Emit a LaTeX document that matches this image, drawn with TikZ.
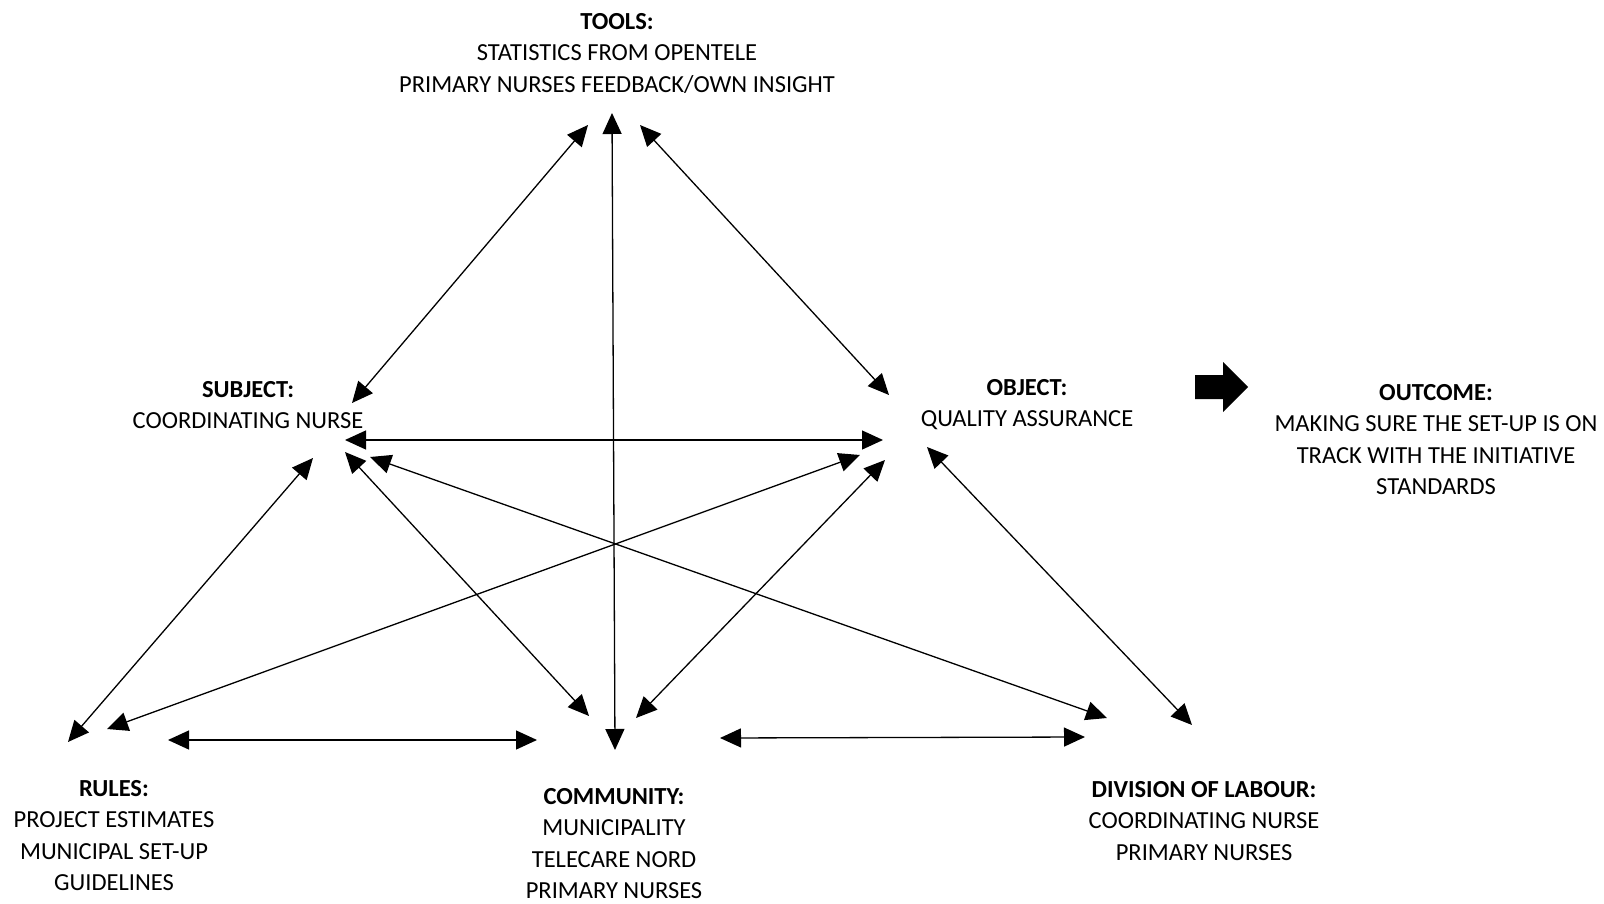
\documentclass[tikz,border=0pt]{standalone}
\usepackage{fontspec}
\setmainfont{Carlito}
\usetikzlibrary{arrows.meta}
\begin{document}
\begin{tikzpicture}[x=1pt,y=-1pt,
  label/.style={anchor=north,inner sep=0pt,align=center,
    font=\fontsize{24.5}{31.5}\selectfont},
  link/.style={line width=1.3pt,
    {Triangle[length=21pt,width=19pt]}-{Triangle[length=21pt,width=19pt]}}]
\useasboundingbox (0,0) rectangle (1604,904);

% text blocks
\node[label] (tools) at (617,13) {\textbf{TOOLS:}\\STATISTICS FROM OPENTELE\\PRIMARY NURSES FEEDBACK/OWN INSIGHT};
\node[label] (subject) at (248,381) {\textbf{SUBJECT:}\\COORDINATING NURSE};
\node[label] (object) at (1027,379) {\textbf{OBJECT:}\\QUALITY ASSURANCE};
\node[label] (outcome) at (1436,384) {\textbf{OUTCOME:}\\MAKING SURE THE SET-UP IS ON\\TRACK WITH THE INITIATIVE\\STANDARDS};
\node[label] (rules) at (114,780) {\textbf{RULES:}\\PROJECT ESTIMATES\\MUNICIPAL SET-UP\\GUIDELINES};
\node[label] (community) at (614,788) {\textbf{COMMUNITY:}\\MUNICIPALITY\\TELECARE NORD\\PRIMARY NURSES};
\node[label] (division) at (1204,781) {\textbf{DIVISION OF LABOUR:}\\COORDINATING NURSE\\PRIMARY NURSES};

% arrow ends around each corner
\coordinate (tS) at (588,125);
\coordinate (tC) at (612,113);
\coordinate (tO) at (640,125);

\coordinate (sT) at (352,403);
\coordinate (sO) at (345,440);
\coordinate (sR) at (313,458);
\coordinate (sC) at (345,452);
\coordinate (sD) at (370,457);

\coordinate (oT) at (889,395);
\coordinate (oS) at (883,440);
\coordinate (oR) at (860,455);
\coordinate (oC) at (885,460);
\coordinate (oD) at (927,447);

\coordinate (rS) at (68,742);
\coordinate (rO) at (107,729);
\coordinate (rC) at (168,740);

\coordinate (cR) at (537,740);
\coordinate (cT) at (615,750);
\coordinate (cS) at (589,716);
\coordinate (cO) at (636,718);
\coordinate (cD) at (720,738);

\coordinate (dS) at (1107,718);
\coordinate (dO) at (1192,725);
\coordinate (dC) at (1085,737);

% connectors
\draw[link] (tS) -- (sT);
\draw[link] (tC) -- (cT);
\draw[link] (tO) -- (oT);
\draw[link] (sO) -- (oS);
\draw[link] (sR) -- (rS);
\draw[link] (sC) -- (cS);
\draw[link] (sD) -- (dS);
\draw[link] (oR) -- (rO);
\draw[link] (oC) -- (cO);
\draw[link] (oD) -- (dO);
\draw[link] (rC) -- (cR);
\draw[link] (cD) -- (dC);

% block arrow towards the outcome
\fill (1195,375) -- (1223,375) -- (1223,362) -- (1248,387) -- (1223,412)
  -- (1223,399) -- (1195,399) -- cycle;
\end{tikzpicture}
\end{document}
